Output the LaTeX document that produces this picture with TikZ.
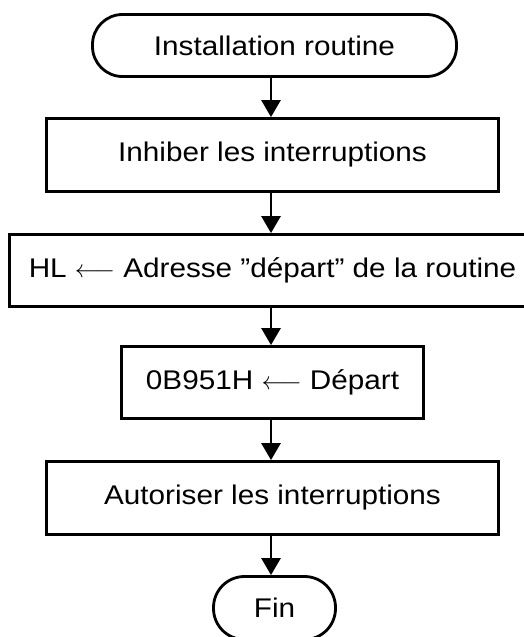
\documentclass[tikz,border=0pt]{standalone}
\usepackage{fontspec}
\setmainfont[FakeStretch=1.1]{Liberation Sans}
\usetikzlibrary{arrows.meta}
\newcommand{\myarrow}{$\longleftarrow$}
\begin{document}
\begin{tikzpicture}[x=1pt,y=-1pt,
  box/.style={draw,line width=2.8pt,rectangle,inner sep=0pt,font=\fontsize{27}{32}\selectfont},
  term/.style={box,rounded corners=30pt},
  arr/.style={line width=2.8pt,-{Triangle[length=17pt,width=19pt]}}]
\useasboundingbox (0,0) rectangle (524,637);
\clip (0,0) rectangle (524,637);
\coordinate (ax) at (271,0);
\node[term,minimum width=364pt,minimum height=62pt] (n1) at (274.5,45.5) {Installation routine};
\node[box,minimum width=452pt,minimum height=73pt] (n2) at (272.5,155) {Inhiber les interruptions};
\node[box,minimum width=526pt,minimum height=72pt] (n3) at (272.5,270.5) {HL \myarrow{} Adresse ''départ'' de la routine};
\node[box,minimum width=302pt,minimum height=72pt] (n4) at (272.5,382.5) {0B951H \myarrow{} Départ};
\node[box,minimum width=452pt,minimum height=73pt] (n5) at (272.5,498) {Autoriser les interruptions};
\node[term,rounded corners=31pt,minimum width=122pt,minimum height=63pt] (n6) at (274.5,608) {Fin};
\draw[arr] (n1.south -| ax) -- (n2.north -| ax);
\draw[arr] (n2.south -| ax) -- (n3.north -| ax);
\draw[arr] (n3.south -| ax) -- (n4.north -| ax);
\draw[arr] (n4.south -| ax) -- (n5.north -| ax);
\draw[arr] (n5.south -| ax) -- (n6.north -| ax);
\end{tikzpicture}
\end{document}
